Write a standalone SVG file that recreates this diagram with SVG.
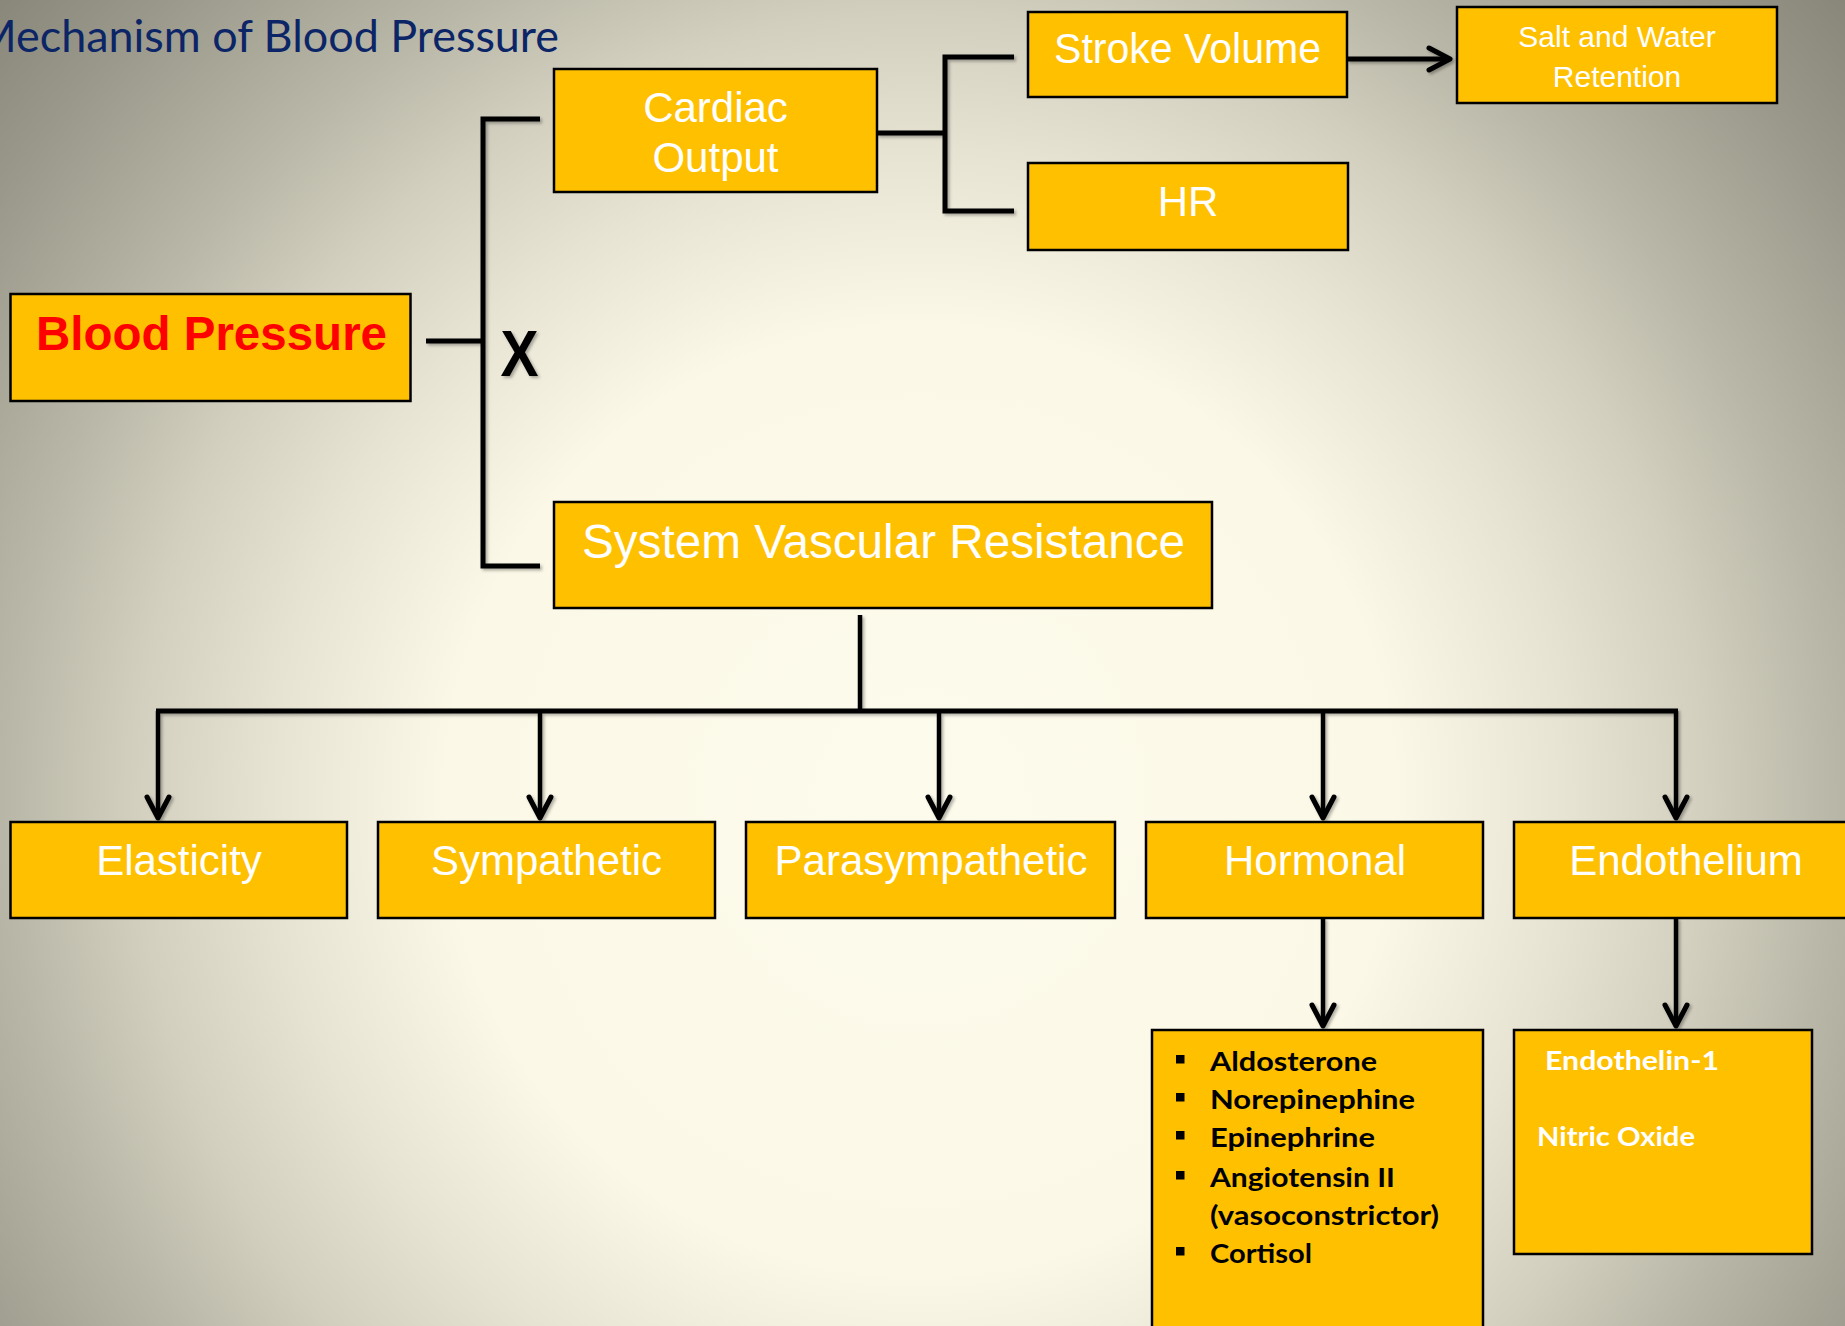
<svg xmlns="http://www.w3.org/2000/svg" width="1845" height="1326" viewBox="0 0 1845 1326">
<defs>
  <radialGradient id="bg" gradientUnits="userSpaceOnUse" cx="920" cy="800" r="1250">
    <stop offset="0" stop-color="#FDFBEC"/>
    <stop offset="0.38" stop-color="#FBF8E7"/>
    <stop offset="0.52" stop-color="#E6E3D3"/>
    <stop offset="0.63" stop-color="#D2CFBF"/>
    <stop offset="0.73" stop-color="#B9B7A7"/>
    <stop offset="0.88" stop-color="#9A988A"/>
    <stop offset="1" stop-color="#858375"/>
  </radialGradient>
  <filter id="sh" x="-20%" y="-20%" width="140%" height="140%">
    <feDropShadow dx="2" dy="2" stdDeviation="1.5" flood-color="#000" flood-opacity="0.3"/>
  </filter>
  <marker id="arr" markerUnits="userSpaceOnUse" viewBox="-30 -16 34 32" markerWidth="34" markerHeight="32" refX="0" refY="0" orient="auto" overflow="visible">
    <path d="M-21,-11 L0,0 L-21,11" fill="none" stroke="#000" stroke-width="5" stroke-linecap="round" stroke-linejoin="round"/>
  </marker>
  <style>
    .box { fill: #FFC000; stroke: #000; stroke-width: 2.5; }
    .w { fill: #FFFFFF; font-family: "Liberation Sans", Arial, sans-serif; text-anchor: middle; }
    .f42 { font-size: 42px; }
    .list { font-family: Lato, "Open Sans", sans-serif; font-weight: bold; font-size: 27px; }
    .conn { fill: none; stroke: #000; stroke-width: 5; stroke-linecap: butt; stroke-linejoin: miter; }
    .thin { stroke-width: 4.5; }
  </style>
</defs>
<rect x="0" y="0" width="1845" height="1326" fill="url(#bg)"/>

<text id="title" x="-25" y="52" font-family="Lato, 'Open Sans', sans-serif" font-size="44" fill="#0B2567" textLength="584" lengthAdjust="spacingAndGlyphs">Mechanism of Blood Pressure</text>

<g id="connectors" filter="url(#sh)">
  <path class="conn" d="M426,341 H483"/>
  <path class="conn" d="M540,119 H483 V566 H540"/>
  <path class="conn" d="M877,133 H945"/>
  <path class="conn" d="M1014,57 H945 V211 H1014"/>
  <path class="conn" d="M1347,59 H1450" marker-end="url(#arr)"/>
  <path class="conn thin" d="M860,615 V711"/>
  <path class="conn" d="M156,711 H1678"/>
  <path class="conn thin" d="M158,711 V818" marker-end="url(#arr)"/>
  <path class="conn thin" d="M540,711 V818" marker-end="url(#arr)"/>
  <path class="conn thin" d="M939,711 V818" marker-end="url(#arr)"/>
  <path class="conn thin" d="M1323,711 V818" marker-end="url(#arr)"/>
  <path class="conn thin" d="M1676,711 V818" marker-end="url(#arr)"/>
  <path class="conn thin" d="M1323,918 V1026" marker-end="url(#arr)"/>
  <path class="conn thin" d="M1676,918 V1026" marker-end="url(#arr)"/>
</g>

<text id="times" x="519.5" y="376" font-family="'Liberation Sans', Arial, sans-serif" font-weight="bold" font-size="64" fill="#000" text-anchor="middle" textLength="38" lengthAdjust="spacingAndGlyphs" filter="url(#sh)">X</text>

<g id="blood-pressure">
  <rect class="box" x="10.5" y="294" width="400" height="107"/>
  <text x="211.5" y="350" font-family="'Liberation Sans', Arial, sans-serif" font-weight="bold" font-size="47.5" fill="#FF0000" text-anchor="middle">Blood Pressure</text>
</g>

<g id="cardiac-output">
  <rect class="box" x="554" y="69" width="323" height="123"/>
  <text class="w f42" x="715.5" y="122">Cardiac</text>
  <text class="w f42" x="715.5" y="172">Output</text>
</g>

<g id="stroke-volume">
  <rect class="box" x="1028" y="12" width="319" height="85"/>
  <text class="w f42" x="1187.5" y="63" textLength="267" lengthAdjust="spacingAndGlyphs">Stroke Volume</text>
</g>

<g id="hr">
  <rect class="box" x="1028" y="163" width="320" height="87"/>
  <text class="w f42" x="1188" y="216">HR</text>
</g>

<g id="salt-water">
  <rect class="box" x="1457" y="7" width="320" height="96"/>
  <text class="w" x="1617" y="47" font-size="30">Salt and Water</text>
  <text class="w" x="1617" y="87" font-size="30">Retention</text>
</g>

<g id="svr">
  <rect class="box" x="554" y="502" width="658" height="106"/>
  <text class="w" x="883.5" y="558" font-size="48" textLength="603" lengthAdjust="spacingAndGlyphs">System Vascular Resistance</text>
</g>

<g id="elasticity">
  <rect class="box" x="10.5" y="822" width="336.5" height="96"/>
  <text class="w f42" x="179" y="875">Elasticity</text>
</g>

<g id="sympathetic">
  <rect class="box" x="378" y="822" width="337" height="96"/>
  <text class="w f42" x="546.5" y="875">Sympathetic</text>
</g>

<g id="parasympathetic">
  <rect class="box" x="746" y="822" width="369" height="96"/>
  <text class="w f42" x="931" y="875">Parasympathetic</text>
</g>

<g id="hormonal">
  <rect class="box" x="1146" y="822" width="337" height="96"/>
  <text class="w f42" x="1315" y="875">Hormonal</text>
</g>

<g id="endothelium">
  <rect class="box" x="1514" y="822" width="344" height="96"/>
  <text class="w f42" x="1686" y="875">Endothelium</text>
</g>

<g id="hormone-list">
  <rect class="box" x="1152" y="1030" width="331" height="310"/>
  <g fill="#000">
    <rect x="1176" y="1055" width="8.5" height="8.5"/>
    <rect x="1176" y="1093" width="8.5" height="8.5"/>
    <rect x="1176" y="1131" width="8.5" height="8.5"/>
    <rect x="1176" y="1171" width="8.5" height="8.5"/>
    <rect x="1176" y="1247" width="8.5" height="8.5"/>
  </g>
  <text class="list" x="1210" y="1071" fill="#000" textLength="167" lengthAdjust="spacingAndGlyphs">Aldosterone</text>
  <text class="list" x="1210" y="1109" fill="#000" textLength="205" lengthAdjust="spacingAndGlyphs">Norepinephine</text>
  <text class="list" x="1210" y="1147" fill="#000" textLength="165" lengthAdjust="spacingAndGlyphs">Epinephrine</text>
  <text class="list" x="1210" y="1187" fill="#000" textLength="185" lengthAdjust="spacingAndGlyphs">Angiotensin II</text>
  <text class="list" x="1210" y="1225" fill="#000" textLength="229" lengthAdjust="spacingAndGlyphs">(vasoconstrictor)</text>
  <text class="list" x="1210" y="1263" fill="#000" textLength="102" lengthAdjust="spacingAndGlyphs">Cortisol</text>
</g>

<g id="endothelium-list">
  <rect class="box" x="1514" y="1030" width="298" height="224"/>
  <text class="list" x="1545" y="1070" fill="#FFFFFF" textLength="174" lengthAdjust="spacingAndGlyphs">Endothelin-1</text>
  <text class="list" x="1537" y="1146" fill="#FFFFFF" textLength="158" lengthAdjust="spacingAndGlyphs">Nitric Oxide</text>
</g>
</svg>
